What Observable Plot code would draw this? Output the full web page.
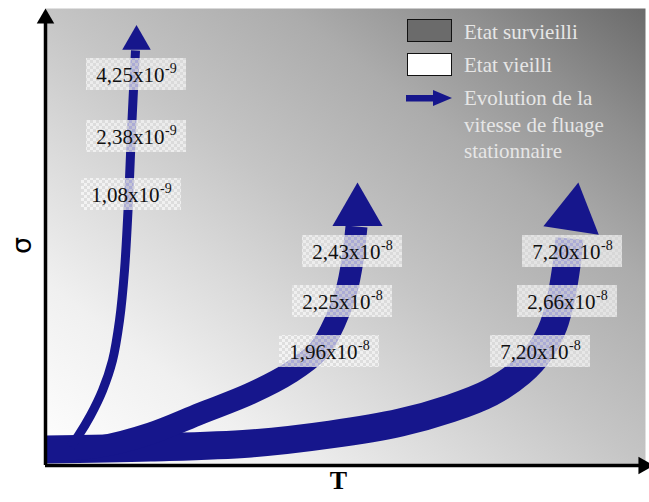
<!DOCTYPE html>
<html><head><meta charset="utf-8">
<script src="https://cdn.jsdelivr.net/npm/d3@7"></script>
<script src="https://cdn.jsdelivr.net/npm/@observablehq/plot@0.6"></script>
<style>
html,body{margin:0;padding:0;background:#fff;}
#wrap{position:relative;width:649px;height:502px;overflow:hidden;}
.lg{position:absolute;font-family:"Liberation Serif","Times New Roman",serif;font-size:21px;color:#e6e6e6;line-height:26.5px;white-space:nowrap;}
.sw{position:absolute;width:43px;height:21px;border:1.5px solid #111;}
</style></head><body><div id="wrap"></div>
<script>
// Schematic axes: T (horizontal), sigma (vertical), arbitrary units
const T_MAX = 600, S_MAX = 457;

// Arrow centre-lines (T, sigma) for the three creep-rate evolutions
const arrow1T = [25, 33, 45, 57, 67, 74, 79, 83, 86, 90];
const arrow1S = [19, 30, 50, 75, 105, 145, 195, 265, 335, 415];
const arrow2T = [0, 55, 105, 155, 205, 245, 273, 290, 301, 307, 311];
const arrow2S = [15, 19, 32, 52, 72, 93, 115, 145, 175, 205, 239];
const arrow3T = [0, 105, 205, 285, 355, 405, 445, 475, 495, 508, 516, 521, 524];
const arrow3S = [16, 18, 22, 31, 43, 57, 73, 93, 115, 140, 170, 200, 227];

// Arrow head anchors (T, sigma)
const headT = [91, 312, 528];
const headS = [424, 254, 251];

// Creep-rate labels
const rateMantissa = ["4,25x10", "2,38x10", "1,08x10", "2,43x10", "2,25x10", "1,96x10", "7,20x10", "2,66x10", "7,20x10"];
const rateExponent = ["-9", "-9", "-9", "-8", "-8", "-8", "-8", "-8", "-8"];
const labelT = [91, 91, 86, 307, 297, 284, 527, 522, 495];
const labelS = [391, 329, 271, 214, 164, 114, 214, 164, 114];

// Legend
const legendLabels = ["Etat survieilli", "Etat vieilli", "Evolution de la\nvitesse de fluage\nstationnaire"];

// ---- build
const BLUE = "#16168c";
const SERIF = "Liberation Serif, Times New Roman, serif";
const paths = [[arrow1T, arrow1S], [arrow2T, arrow2S], [arrow3T, arrow3S]]
  .map(([T, S]) => T.map((t, j) => ({t, s: S[j]})));
const heads = headT.map((t, i) => ({t, s: headS[i]}));
const labels = rateMantissa.map((m, i) => ({m, e: rateExponent[i], t: labelT[i], s: labelS[i]}));
const shaftWidth = [9, 22, 28];
const headR = [10.6, 18.6, 20.8];
const headRot = [0, 0, 8.6];

const marks = [
  Plot.frame({fill: "url(#bg)", stroke: "none"}),
  ...[2, 1, 0].map(i => Plot.line(paths[i], {
    x: "t", y: "s", stroke: BLUE, strokeWidth: shaftWidth[i], curve: "catmull-rom",
    strokeLinecap: "butt", strokeLinejoin: "round"
  })),
  ...[0, 1, 2].map(i => Plot.dot([heads[i]], {
    x: "t", y: "s", symbol: "triangle", r: headR[i], fill: BLUE, stroke: "none", rotate: headRot[i]
  })),
  Plot.rect(labels, {x1: d => d.t - 50, x2: d => d.t + 50, y1: d => d.s - 16, y2: d => d.s + 16, fill: "url(#chk)"}),
  Plot.text(labels, {x: "t", y: "s", text: "m", textAnchor: "end", dx: 28, dy: 1, fontSize: 21, fontFamily: SERIF, fill: "#111"}),
  Plot.text(labels, {x: "t", y: "s", text: "e", textAnchor: "start", dx: 28.5, dy: -6, fontSize: 14, fontFamily: SERIF, fill: "#111"}),
  // axes with arrow heads
  Plot.ruleX([0], {y1: 0, y2: S_MAX - 12, stroke: "#000", strokeWidth: 3.5}),
  Plot.ruleY([0], {x1: 0, x2: T_MAX - 6, stroke: "#000", strokeWidth: 3.5}),
  Plot.dot([{t: 0, s: S_MAX - 10}], {x: "t", y: "s", symbol: "triangle", r: 6.5, fill: "#000", stroke: "none"}),
  Plot.dot([{t: T_MAX - 2, s: 0}], {x: "t", y: "s", symbol: "triangle", r: 6.5, fill: "#000", stroke: "none", rotate: 90}),
  Plot.text(["T"], {frameAnchor: "bottom", dx: -7, dy: 23, fontSize: 26, fontWeight: "bold", fontFamily: SERIF, fill: "#000"}),
  Plot.text(["σ"], {frameAnchor: "left", dx: -23, dy: 17, rotate: -90, fontSize: 27, fontFamily: "DejaVu Sans, sans-serif", fill: "#000"})
];

const chart = Plot.plot({
  width: 649, height: 502,
  marginLeft: 45, marginRight: 4, marginTop: 8, marginBottom: 37,
  x: {domain: [0, T_MAX], axis: null},
  y: {domain: [0, S_MAX], axis: null},
  style: {background: "#fff", overflow: "visible"},
  marks
});

// gradient background + checker pattern for labels
const svg = d3.select(chart.tagName.toLowerCase() === "svg" ? chart : chart.querySelector("svg"));
const defs = svg.insert("defs", ":first-child");
const g = defs.append("linearGradient").attr("id", "bg").attr("x1", 0).attr("y1", 1).attr("x2", 1).attr("y2", 0);
[[0, "#ffffff"], [0.2, "#f0f0f0"], [0.35, "#dbdbdb"], [0.5, "#c5c5c5"], [0.7, "#acacac"], [0.85, "#8f8f8f"], [1, "#6b6b6b"]]
  .forEach(([o, c]) => g.append("stop").attr("offset", o).attr("stop-color", c));
const p = defs.append("pattern").attr("id", "chk").attr("patternUnits", "userSpaceOnUse").attr("width", 6).attr("height", 6);
p.append("rect").attr("width", 6).attr("height", 6).attr("fill", "#ffffff").attr("fill-opacity", 0.64);
p.append("rect").attr("width", 3).attr("height", 3).attr("fill", "#d2d2d2").attr("fill-opacity", 0.64);
p.append("rect").attr("x", 3).attr("y", 3).attr("width", 3).attr("height", 3).attr("fill", "#d2d2d2").attr("fill-opacity", 0.64);

const wrap = document.getElementById("wrap");
wrap.appendChild(chart);

// legend overlay (top right, inside the plot frame)
const lg = d3.select(wrap);
lg.append("div").attr("class", "sw").style("left", "407px").style("top", "19px").style("background", "#6b6b6b");
lg.append("div").attr("class", "sw").style("left", "407px").style("top", "53px").style("background", "#ffffff");
lg.append("div").style("position", "absolute").style("left", "406px").style("top", "89px")
  .html(`<svg width="48" height="18"><rect x="0" y="6" width="30" height="6.5" fill="${BLUE}"/><polygon points="27,1 46,9 27,17" fill="${BLUE}"/></svg>`);
const tops = [19, 52, 85];
legendLabels.forEach((txt, i) => {
  lg.append("div").attr("class", "lg").style("left", "464px").style("top", tops[i] + "px")
    .html(txt.split("\n").join("<br>"));
});
</script>
</body></html>
